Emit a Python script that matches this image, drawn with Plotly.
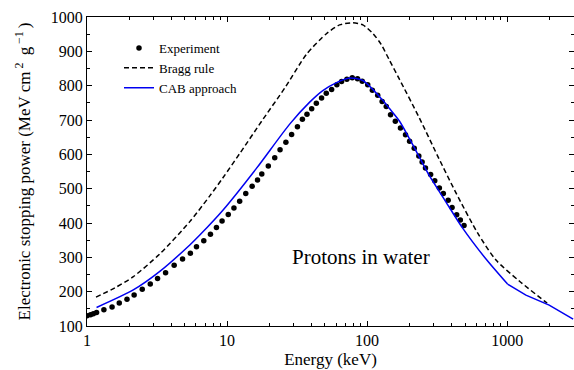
import math
import plotly.graph_objects as go

# Proton electronic stopping power in water (keV, MeV cm^2 g^-1)
exp_energy = [1.00, 1.06, 1.11, 1.17, 1.32, 1.51, 1.70, 1.93, 2.17, 2.48,
              2.83, 3.19, 3.64, 4.19, 4.81, 5.47, 6.05, 6.82, 7.61, 8.40,
              9.21, 10.2, 11.2, 12.3, 13.6, 15.1, 16.5, 17.7, 19.7, 21.9,
              23.9, 26.3, 28.9, 31.8, 34.5, 37.2, 40.2, 43.4, 47.3, 51.1,
              55.8, 60.8, 65.7, 71.7, 78.3, 85.4, 92.3, 101, 109, 119,
              128, 137, 147, 159, 173, 188, 201, 217, 234, 247,
              261, 284, 304, 328, 350, 379, 404, 436, 463, 492]
exp_power = [130, 133, 136, 139, 147, 155, 167, 178, 190, 207,
             222, 238, 255, 277, 295, 312, 331, 348, 367, 387,
             406, 425, 444, 463, 486, 507, 525, 543, 566, 590,
             613, 635, 658, 680, 702, 717, 733, 749, 764, 778,
             789, 803, 812, 819, 823, 820, 813, 803, 787, 772,
             754, 739, 715, 696, 677, 657, 638, 618, 595, 578,
             560, 541, 523, 502, 486, 466, 445, 424, 409, 393]

bragg_energy = [1.16, 1.58, 2.13, 3.31, 5.42, 7.53, 9.32, 12.3, 17.7, 25.8,
                37.0, 51.4, 63.6, 79.1, 93.2, 110, 126, 144, 170, 236,
                319, 432, 615, 832, 1220, 1840, 1930]
bragg_power = [184, 211, 243, 310, 404, 479, 531, 602, 697, 793,
               892, 952, 977, 983, 977, 952, 920, 875, 819, 706,
               595, 487, 371, 292, 231, 173, 167]

cab_energy = [1.17, 2.14, 3.31, 5.42, 6.39, 9.37, 16.2, 28.0, 38.9, 48.0,
              60.0, 74.9, 93.2, 129, 144, 170, 201, 236, 279, 362,
              481, 706, 1006, 1361, 1995, 2958]
cab_power = [154, 205, 259, 336, 365, 438, 559, 688, 752, 785,
             808, 822, 815, 758, 734, 697, 645, 592, 537, 464,
             385, 295, 222, 190, 161, 120]

x_ticks = [1, 10, 100, 1000]
y_ticks = [100, 200, 300, 400, 500, 600, 700, 800, 900, 1000]

FONT = "Liberation Serif"
BLUE = "#0000f0"

fig = go.Figure()
fig.add_trace(go.Scatter(
    x=exp_energy, y=exp_power, mode="markers", name="Experiment",
    marker=dict(color="black", size=5.5)))
fig.add_trace(go.Scatter(
    x=bragg_energy, y=bragg_power, mode="lines", name="Bragg rule",
    line=dict(color="black", width=1.5, dash="5px,3px", shape="spline", smoothing=0.7)))

# CAB curve: smooth up to 1 MeV, straight segments above
k = cab_energy.index(1006)
fig.add_trace(go.Scatter(
    x=cab_energy[:k + 1], y=cab_power[:k + 1], mode="lines", name="CAB approach",
    legendgroup="cab",
    line=dict(color=BLUE, width=1.5, shape="spline", smoothing=0.7)))
fig.add_trace(go.Scatter(
    x=cab_energy[k:], y=cab_power[k:], mode="lines", showlegend=False,
    legendgroup="cab", line=dict(color=BLUE, width=1.5)))

fig.add_annotation(
    text="Protons in water", x=math.log10(90.5), y=300, xref="x", yref="y",
    showarrow=False, font=dict(family=FONT, size=21, color="black"))

minor_x = [m * 10 ** d for d in range(4) for m in range(2, 10) if m * 10 ** d < 3000]

axis_common = dict(
    showline=True, linecolor="black", linewidth=1, mirror="ticks",
    ticks="inside", ticklen=5, tickcolor="black", tickwidth=1,
    showgrid=False, zeroline=False,
    tickfont=dict(family=FONT, size=16, color="black"))

fig.update_xaxes(
    type="log", range=[0, math.log10(3000)],
    tickvals=x_ticks, ticktext=[str(v) for v in x_ticks],
    minor=dict(tickvals=minor_x, ticks="inside", ticklen=3, tickcolor="black", showgrid=False),
    title=dict(text="Energy (keV)", font=dict(family=FONT, size=17, color="black"), standoff=4),
    **axis_common)
fig.update_yaxes(
    range=[100, 1000], tickvals=y_ticks,
    minor=dict(dtick=50, ticks="inside", ticklen=3, tickcolor="black", showgrid=False),
    title=dict(text="Electronic stopping power (MeV cm<sup> 2 </sup> g<sup> −1 </sup>)",
               font=dict(family=FONT, size=17, color="black"), standoff=15),
    **axis_common)

fig.update_layout(
    width=574, height=370,
    margin=dict(l=87, r=0, t=17, b=44),
    paper_bgcolor="white", plot_bgcolor="white",
    showlegend=True,
    legend=dict(x=(119 - 87) / 487, y=1 - (33 - 17) / 309, xanchor="left", yanchor="top",
                bgcolor="rgba(0,0,0,0)", font=dict(family=FONT, size=13, color="black"),
                tracegroupgap=0, itemwidth=30),
)

fig.write_html("out.html")
